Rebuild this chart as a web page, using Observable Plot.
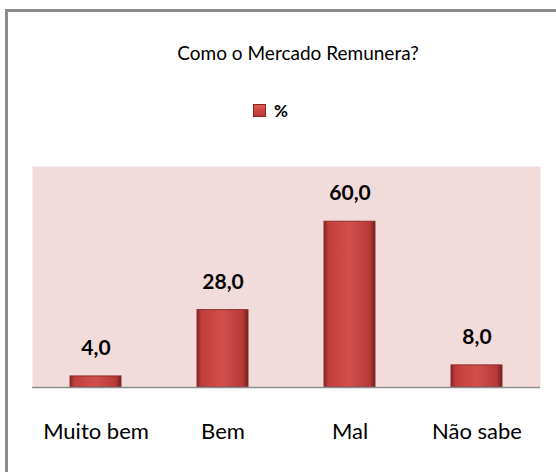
<!DOCTYPE html>
<html>
<head>
<meta charset="utf-8">
<script src="https://cdn.jsdelivr.net/npm/d3@7"></script>
<script src="https://cdn.jsdelivr.net/npm/@observablehq/plot@0.6"></script>
<style>
  html, body { margin: 0; padding: 0; background: #fff; width: 556px; height: 472px; overflow: hidden; font-family: Lato, "Open Sans", sans-serif; }
  #frame { position: absolute; left: 5px; top: 9px; width: 548px; height: 460px; border-left: 3px solid #8a8a8a; border-top: 3px solid #8a8a8a; }
  #title { position: absolute; left: 0; top: 41px; width: 596px; text-align: center; font-size: 19px; color: #000; }
  #legend { position: absolute; left: 253px; top: 100px; height: 20px; display: flex; align-items: center; font-size: 17px; font-weight: bold; color: #000; }
  #legend .sw { width: 13px; height: 13px; background: linear-gradient(#e05a57, #b83532); border: 1px solid #8a2626; box-sizing: border-box; margin-right: 8px; }
  #chart { position: absolute; left: 0; top: 150px; width: 556px; height: 322px; overflow: hidden; }
</style>
</head>
<body>
<div id="frame"></div>
<div id="title">Como o Mercado Remunera?</div>
<div id="legend"><span class="sw"></span><span>%</span></div>
<div id="chart"></div>
<script>
const categories = ["Muito bem", "Bem", "Mal", "Não sabe"];
const values = [4.0, 28.0, 60.0, 8.0];
const labels = ["4,0", "28,0", "60,0", "8,0"];

const data = categories.map((c, i) => ({category: c, value: values[i], label: labels[i]}));

const plot = Plot.plot({
  width: 556,
  height: 322,
  marginTop: 16,
  marginBottom: 85,
  marginLeft: 32,
  marginRight: 16,
  style: {fontFamily: "Lato, 'Open Sans', sans-serif", background: "transparent"},
  x: {domain: categories, paddingInner: 0.6, paddingOuter: 0.3, label: null},
  y: {domain: [0, 80], axis: null},
  marks: [
    Plot.frame({fill: "#f2dcdb", stroke: null}),
    Plot.barY(data, {x: "category", y: "value", fill: "url(#barGrad)", stroke: "#8e2b29", strokeWidth: 1}),
    Plot.ruleY([0], {stroke: "#8c8c8c", strokeWidth: 1.5}),
    Plot.text(data, {x: "category", y: "value", text: "label", dy: -28, fontSize: 21, fontWeight: "bold", fill: "#000"}),
    Plot.axisX({tickSize: 0, tickPadding: 36, fontSize: 22, color: "#000", label: null})
  ]
});

const svg = d3.select(plot);
const defs = svg.insert("defs", ":first-child");
const g = defs.append("linearGradient").attr("id", "barGrad").attr("x1", "0").attr("x2", "1").attr("y1", "0").attr("y2", "0");
[[0, "#7e2422"], [0.08, "#bf3e3b"], [0.5, "#d2504c"], [0.9, "#b53a37"], [1, "#6f1f1d"]].forEach(([o, c]) => g.append("stop").attr("offset", o).attr("stop-color", c));

document.getElementById("chart").appendChild(plot);
</script>
</body>
</html>
